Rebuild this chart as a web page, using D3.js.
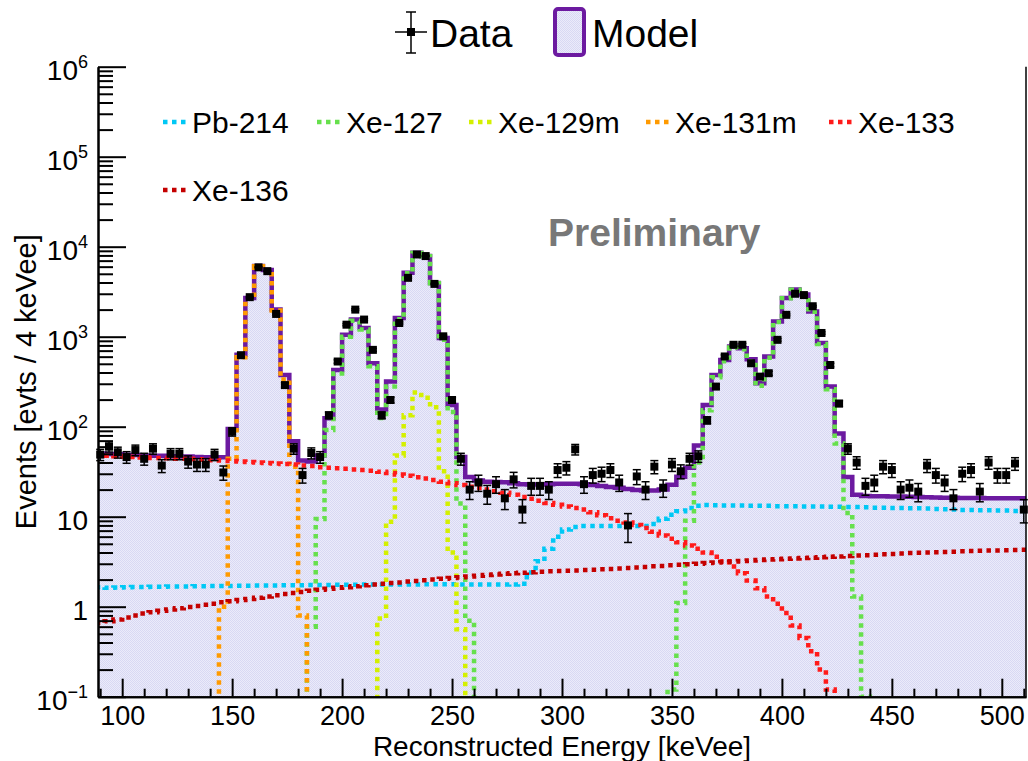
<!DOCTYPE html>
<html>
<head>
<meta charset="utf-8">
<script src="https://cdn.jsdelivr.net/npm/d3@7"></script>
<style>
  body { margin: 0; background: #fff; }
  text { font-family: "Liberation Sans", Arial, Helvetica, sans-serif; }
</style>
</head>
<body>
<div id="chart"></div>
<script>
// 4 keV bins, centres 90 ... 510 keVee (106 bins)
const binCenters = d3.range(90, 511, 4);
const binHalf = 2;

// Observed counts per bin
const dataCounts = [
  49, 60, 52, 46, 55, 44, 57, 37, 50, 50,
  41, 38, 38, 49, 31, 88, 623, 2750, 5900, 5350,
  1790, 290, 57, 29, 51, 46, 134, 530, 1360, 2000,
  1550, 714, 134, 198, 1420, 4510, 8200, 7870, 3860, 1010,
  198, 44, 20, 24, 18, 23, 16, 26, 12, 22,
  22, 20, 33, 35, 56, 23, 29, 30, 33, 24,
  8, 28, 20, 36, 21, 38, 32, 44, 47, 118,
  279, 603, 813, 813, 507, 360, 393, 923, 1750, 3000,
  2900, 2180, 1100, 485, 181, 57, 40, 22, 24, 36,
  33, 20, 21, 19, 37, 29, 24, 16, 30, 33,
  19, 40, 29, 29, 39, 12
];

// Total model
const model = [
  50.3, 49.8, 49.4, 48.9, 48.5, 48, 47.6, 47.5, 47.1, 46.7,
  46.7, 46.2, 45.7, 45.3, 45.8, 94, 630, 2700, 6090, 5500,
  2000, 376, 69, 42, 41, 48, 124, 427, 1050, 1550,
  1250, 507, 155, 318, 1610, 5130, 8570, 7870, 3960, 965,
  174, 46, 27.6, 25.3, 24.5, 24.3, 24.2, 23.5, 23, 22.8,
  22.8, 23, 23.2, 23.3, 23.2, 23, 22.5, 22, 21.4, 21,
  20.3, 19.8, 19.5, 19.5, 20, 22.6, 27.8, 35, 62, 174,
  376, 552, 780, 746, 560, 303, 603, 1480, 2700, 3340,
  2940, 1910, 850, 279, 84, 27.6, 17.5, 17, 16.9, 16.9,
  16.8, 16.8, 16.7, 16.6, 16.5, 16.3, 16.2, 16.2, 16.1, 16.1,
  16.1, 16, 16, 16, 16, 16
];

const pb214 = [
  1.65, 1.62, 1.63, 1.65, 1.66, 1.66, 1.67, 1.67, 1.68, 1.68,
  1.68, 1.69, 1.69, 1.7, 1.7, 1.7, 1.71, 1.71, 1.72, 1.72,
  1.72, 1.73, 1.73, 1.73, 1.74, 1.74, 1.74, 1.75, 1.75, 1.75,
  1.76, 1.76, 1.76, 1.77, 1.77, 1.77, 1.77, 1.78, 1.78, 1.78,
  1.78, 1.77, 1.77, 1.76, 1.76, 1.76, 1.76, 1.77, 1.8, 2.4,
  3.2, 4.4, 6.0, 7.2, 7.7, 7.9, 7.9, 7.9, 7.9, 7.9,
  7.9, 7.9, 7.9, 8.3, 9.5, 10.5, 11.5, 12.5, 13.2, 13.5,
  13.4, 13.3, 13.3, 13.3, 13.2, 13.2, 13.2, 13.1, 13.1, 13.1,
  13.0, 13.0, 13.0, 12.9, 12.9, 12.8, 12.8, 12.7, 12.6, 12.6,
  12.5, 12.5, 12.4, 12.4, 12.3, 12.2, 12.1, 12.0, 11.9, 11.9,
  11.8, 11.8, 11.7, 11.7, 11.6, 11.6
];

const xe127 = [
  0, 0, 0, 0, 0, 0, 0, 0, 0, 0,
  0, 0, 0, 0, 0, 0, 0, 0, 0, 0,
  0, 0, 0, 0, 0.6, 9.4, 92, 390, 1000, 1500,
  1200, 470, 125, 280, 1560, 5080, 8520, 7820, 3920, 925,
  146, 14, 0.7, 0, 0, 0, 0, 0, 0, 0,
  0, 0, 0, 0, 0, 0, 0, 0, 0, 0,
  0, 0, 0, 0, 0, 0.12, 1.1, 9, 40, 152,
  355, 532, 760, 727, 535, 285, 585, 1460, 2680, 3320,
  2920, 1890, 830, 260, 65, 11, 1.3, 0.1, 0, 0,
  0, 0, 0, 0, 0, 0, 0, 0, 0, 0,
  0, 0, 0, 0, 0, 0
];

const xe129m = [
  0, 0, 0, 0, 0, 0, 0, 0, 0, 0,
  0, 0, 0, 0, 0, 0, 0, 0, 0, 0,
  0, 0, 0, 0, 0, 0, 0, 0, 0, 0,
  0, 0, 0.74, 8.8, 48, 134, 240, 210, 165, 32,
  4, 0.56, 0, 0, 0, 0, 0, 0, 0, 0,
  0, 0, 0, 0, 0, 0, 0, 0, 0, 0,
  0, 0, 0, 0, 0, 0, 0, 0, 0, 0,
  0, 0, 0, 0, 0, 0, 0, 0, 0, 0,
  0, 0, 0, 0, 0, 0, 0, 0, 0, 0,
  0, 0, 0, 0, 0, 0, 0, 0, 0, 0,
  0, 0, 0, 0, 0, 0
];

const xe131m = [
  0, 0, 0, 0, 0, 0, 0, 0, 0, 0,
  0, 0, 0, 0, 1.0, 44, 590, 2650, 6050, 5450,
  1950, 335, 36, 0.8, 0, 0, 0, 0, 0, 0,
  0, 0, 0, 0, 0, 0, 0, 0, 0, 0,
  0, 0, 0, 0, 0, 0, 0, 0, 0, 0,
  0, 0, 0, 0, 0, 0, 0, 0, 0, 0,
  0, 0, 0, 0, 0, 0, 0, 0, 0, 0,
  0, 0, 0, 0, 0, 0, 0, 0, 0, 0,
  0, 0, 0, 0, 0, 0, 0, 0, 0, 0,
  0, 0, 0, 0, 0, 0, 0, 0, 0, 0,
  0, 0, 0, 0, 0, 0
];

const xe133 = [
  48, 47.5, 47, 46.5, 46, 45.5, 45, 45, 44.5, 44,
  44, 43.5, 43, 42.5, 42, 41.5, 41, 40.5, 40, 39.5,
  39, 38.5, 38, 37, 36.5, 35.5, 35, 34.5, 34, 33.5,
  33, 32.5, 31.5, 30.5, 29.5, 28.5, 27.5, 26.5, 25.5, 24.5,
  23.5, 22.5, 21.5, 20.8, 20, 19.2, 18.5, 17.5, 16.6, 15.8,
  15, 14.2, 13.6, 13, 12.5, 12, 11.2, 10.4, 9.6, 9,
  8.6, 8.1, 7.5, 6.8, 6.2, 5.7, 5.2, 4.8, 4.4, 4.0,
  3.6, 3.2, 2.8, 2.35, 1.95, 1.6, 1.3, 1.08, 0.85, 0.62,
  0.45, 0.32, 0.2, 0.12, 0.07, 0, 0, 0, 0, 0,
  0, 0, 0, 0, 0, 0, 0, 0, 0, 0,
  0, 0, 0, 0, 0, 0
];

const xe136 = [
  0.66, 0.69, 0.72, 0.76, 0.8, 0.84, 0.87, 0.9, 0.93, 0.96,
  0.99, 1.02, 1.05, 1.08, 1.12, 1.15, 1.19, 1.22, 1.26, 1.3,
  1.34, 1.38, 1.42, 1.46, 1.5, 1.54, 1.58, 1.62, 1.65, 1.69,
  1.73, 1.76, 1.8, 1.83, 1.86, 1.9, 1.93, 1.97, 2.01, 2.05,
  2.09, 2.13, 2.17, 2.21, 2.25, 2.28, 2.32, 2.35, 2.38, 2.41,
  2.44, 2.47, 2.49, 2.51, 2.53, 2.55, 2.57, 2.6, 2.63, 2.66,
  2.69, 2.73, 2.77, 2.81, 2.84, 2.88, 2.92, 2.96, 3.0, 3.05,
  3.1, 3.14, 3.18, 3.22, 3.26, 3.3, 3.34, 3.37, 3.4, 3.44,
  3.47, 3.5, 3.54, 3.58, 3.62, 3.66, 3.7, 3.74, 3.78, 3.82,
  3.86, 3.9, 3.94, 3.97, 4.0, 4.03, 4.06, 4.09, 4.12, 4.15,
  4.18, 4.2, 4.22, 4.24, 4.26, 4.28
];

const componentNames = ['Pb-214', 'Xe-127', 'Xe-129m', 'Xe-131m', 'Xe-133', 'Xe-136'];
const componentValues = [pb214, xe127, xe129m, xe131m, xe133, xe136];
const componentColors = ['#00c8f5', '#66e04c', '#d4f000', '#ff9a00', '#ff1a1a', '#c40000'];

const xMajorTicks = [100, 150, 200, 250, 300, 350, 400, 450, 500];
const yMajorTicks = [0.1, 1, 10, 100, 1000, 10000, 100000, 1000000];

// ---- layout ----
const W = 1028, H = 761;
const plot = { left: 98, right: 1026, top: 66.7, bottom: 696.7 };

const svg = d3.select('#chart').append('svg')
    .attr('width', W).attr('height', H);

const defs = svg.append('defs');
const pat = defs.append('pattern')
    .attr('id', 'modelFill').attr('patternUnits', 'userSpaceOnUse')
    .attr('width', 2).attr('height', 2);
pat.append('rect').attr('width', 2).attr('height', 2).attr('fill', '#ebebfa');
pat.append('rect').attr('width', 1).attr('height', 1).attr('fill', '#d8d8f3');
pat.append('rect').attr('x', 1).attr('y', 1).attr('width', 1).attr('height', 1).attr('fill', '#d8d8f3');

defs.append('clipPath').attr('id', 'plotClip')
    .append('rect')
    .attr('x', plot.left).attr('y', plot.top)
    .attr('width', plot.right - plot.left).attr('height', plot.bottom - plot.top);

const x = d3.scaleLinear().domain([89, 511]).range([plot.left, plot.right]);
const y = d3.scaleLog().domain([0.1, 1e6]).range([plot.bottom, plot.top]);
const yc = v => y(Math.max(v, 0.01));

// histogram outline points (left edges + final right edge)
function stepPoints(values) {
    const pts = binCenters.map((c, i) => [c - binHalf, values[i]]);
    pts.push([binCenters[binCenters.length - 1] + binHalf, values[values.length - 1]]);
    return pts;
}

const stepLine = d3.line().x(d => x(d[0])).y(d => yc(d[1])).curve(d3.curveStepAfter);
const stepArea = d3.area().x(d => x(d[0])).y0(plot.bottom).y1(d => yc(d[1])).curve(d3.curveStepAfter);

const g = svg.append('g').attr('clip-path', 'url(#plotClip)');

// Model fill + outline
g.append('path').attr('d', stepArea(stepPoints(model))).attr('fill', 'url(#modelFill)');
g.append('path').attr('d', stepLine(stepPoints(model)))
    .attr('fill', 'none').attr('stroke', '#6c1aa0').attr('stroke-width', 4.5);

// Components (dotted)
componentValues.forEach((vals, k) => {
    g.append('path').attr('d', stepLine(stepPoints(vals)))
        .attr('fill', 'none')
        .attr('stroke', componentColors[k])
        .attr('stroke-width', 4.5)
        .attr('stroke-dasharray', '4.5,4.5');
});

// Axes
const axisStyle = sel => {
    sel.selectAll('path.domain').attr('stroke', '#000').attr('stroke-width', 2);
    sel.selectAll('line').attr('stroke', '#000').attr('stroke-width', 2);
    sel.selectAll('text').attr('fill', '#000').style('font-size', '27px')
        .style('font-family', '"Liberation Sans", Arial, sans-serif');
};

const xMinor = d3.range(90, 511, 10).filter(v => v % 50 !== 0);
svg.append('g').attr('transform', `translate(0,${plot.bottom})`)
    .call(d3.axisBottom(x).tickValues(xMinor).tickSize(-8).tickSizeOuter(0).tickFormat(''))
    .call(axisStyle);
svg.append('g').attr('transform', `translate(0,${plot.bottom})`)
    .call(d3.axisBottom(x).tickValues(xMajorTicks).tickSize(-18).tickSizeOuter(0).tickPadding(9)
        .tickFormat(d3.format('d')))
    .call(axisStyle);

const yMinor = [];
yMajorTicks.slice(0, -1).forEach(dec => { for (let m = 2; m <= 9; m++) yMinor.push(dec * m); });
svg.append('g').attr('transform', `translate(${plot.left},0)`)
    .call(d3.axisLeft(y).tickValues(yMinor).tickSize(-15).tickSizeOuter(0).tickFormat(''))
    .call(axisStyle);
const yAxis = svg.append('g').attr('transform', `translate(${plot.left},0)`)
    .call(d3.axisLeft(y).tickValues(yMajorTicks).tickSize(-28).tickSizeOuter(0).tickPadding(10))
    .call(axisStyle);

yAxis.selectAll('.tick text').style('font-size', '28px').each(function (d) {
    const t = d3.select(this).text(null).attr('dy', '0.44em');
    const e = Math.round(Math.log10(d));
    if (e === 0) { t.text('1'); return; }
    if (e === 1) { t.text('10'); return; }
    t.append('tspan').text('10');
    t.append('tspan').attr('dy', -12).style('font-size', '18px')
        .text(e < 0 ? '\u2212' + (-e) : String(e));
});

// right frame edge
svg.append('line')
    .attr('x1', plot.right).attr('x2', plot.right)
    .attr('y1', plot.top).attr('y2', plot.bottom)
    .attr('stroke', '#000').attr('stroke-width', 1.5);

// Data points with Poisson error bars
const pts = svg.append('g');
binCenters.forEach((c, i) => {
    const n = dataCounts[i];
    const err = Math.sqrt(n);
    const cx = x(c);
    const yHi = y(n + err), yLo = yc(n - err);
    pts.append('line').attr('x1', cx).attr('x2', cx).attr('y1', yHi).attr('y2', yLo)
        .attr('stroke', '#000').attr('stroke-width', 1.5);
    [yHi, yLo].forEach(yy => pts.append('line')
        .attr('x1', cx - 4).attr('x2', cx + 4).attr('y1', yy).attr('y2', yy)
        .attr('stroke', '#000').attr('stroke-width', 1.5));
    pts.append('rect').attr('x', cx - 4).attr('y', y(n) - 4)
        .attr('width', 8).attr('height', 8).attr('fill', '#000');
});

// Axis titles
svg.append('text')
    .attr('x', (plot.left + plot.right) / 2).attr('y', 756)
    .attr('text-anchor', 'middle').style('font-size', '28px')
    .text('Reconstructed Energy [keVee]');
svg.append('text')
    .attr('transform', `translate(36,${(plot.top + plot.bottom) / 2}) rotate(-90)`)
    .attr('text-anchor', 'middle').style('font-size', '29px')
    .text('Events [evts / 4 keVee]');

// Preliminary
svg.append('text')
    .attr('x', 548).attr('y', 246)
    .style('font-size', '39px').style('font-weight', 'bold').attr('fill', '#787878')
    .text('Preliminary');

// Top legend: Data / Model
const lg = svg.append('g');
lg.append('line').attr('x1', 411).attr('x2', 411).attr('y1', 12).attr('y2', 53)
    .attr('stroke', '#000').attr('stroke-width', 1.5);
[12, 53].forEach(yy => lg.append('line').attr('x1', 406).attr('x2', 416)
    .attr('y1', yy).attr('y2', yy).attr('stroke', '#000').attr('stroke-width', 1.5));
lg.append('line').attr('x1', 395).attr('x2', 427).attr('y1', 32).attr('y2', 32)
    .attr('stroke', '#000').attr('stroke-width', 1.5);
lg.append('rect').attr('x', 407).attr('y', 28).attr('width', 8).attr('height', 8).attr('fill', '#000');
lg.append('text').attr('x', 430).attr('y', 47).style('font-size', '39px').text('Data');
lg.append('rect').attr('x', 555).attr('y', 9).attr('width', 29).attr('height', 46).attr('rx', 3)
    .attr('fill', 'url(#modelFill)').attr('stroke', '#6c1aa0').attr('stroke-width', 4);
lg.append('text').attr('x', 592).attr('y', 47).style('font-size', '39px').text('Model');

// Component legend
const legendSlots = [[163, 122], [317, 122], [469, 122], [646, 122], [829, 122], [163, 190]];
componentNames.forEach((name, k) => {
    const [lx, ly] = legendSlots[k];
    lg.append('line').attr('x1', lx).attr('x2', lx + 22.5).attr('y1', ly).attr('y2', ly)
        .attr('stroke', componentColors[k]).attr('stroke-width', 4.5)
        .attr('stroke-dasharray', '4.5,4.5');
    lg.append('text').attr('x', lx + 29).attr('y', ly + 11).style('font-size', '30px').text(name);
});
</script>
</body>
</html>
